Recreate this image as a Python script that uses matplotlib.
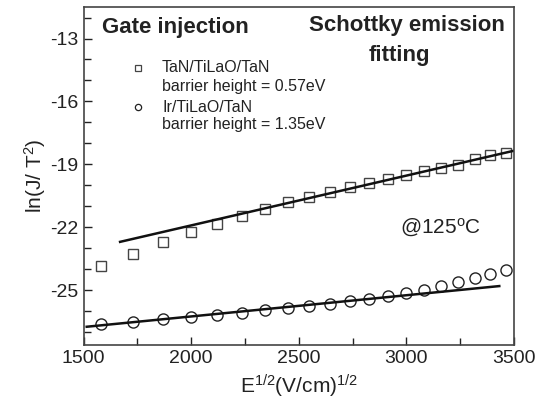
import numpy as np
import matplotlib.pyplot as plt
from matplotlib.ticker import MultipleLocator

plt.rcParams['font.family'] = ['Liberation Sans', 'DejaVu Sans']
plt.rcParams['mathtext.fontset'] = 'custom'
plt.rcParams['mathtext.rm'] = 'Liberation Sans'
plt.rcParams['mathtext.it'] = 'Liberation Sans'
plt.rcParams['axes.unicode_minus'] = False

# DATA
e_sqrt = [1581, 1732, 1871, 2000, 2121, 2236, 2345, 2449, 2550, 2646,
          2739, 2828, 2915, 3000, 3082, 3162, 3240, 3317, 3391, 3464]
ln_tan = [-23.86, -23.28, -22.73, -22.25, -21.85, -21.47, -21.14, -20.82, -20.55, -20.31,
          -20.09, -19.90, -19.71, -19.52, -19.31, -19.17, -19.01, -18.77, -18.56, -18.44]
ln_ir = [-26.64, -26.54, -26.40, -26.30, -26.19, -26.08, -25.95, -25.86, -25.76, -25.67,
         -25.54, -25.41, -25.29, -25.13, -24.99, -24.82, -24.63, -24.43, -24.24, -24.03]

fit_tan_x = [1670, 3497]
fit_tan_y = [-22.70, -18.36]
fit_ir_x = [1515, 3432]
fit_ir_y = [-26.75, -24.81]

# PLOT
fig = plt.figure(figsize=(5.37, 4.17), dpi=100)
ax = fig.add_axes([0.1555, 0.1727, 0.8015, 0.8103])

ax.plot(e_sqrt, ln_tan, 's', ms=7, mfc='none', mec='#444444', mew=1.0)
ax.plot(e_sqrt, ln_ir, 'o', ms=8, mfc='none', mec='#222222', mew=1.0)
ax.plot(fit_tan_x, fit_tan_y, color='#111111', lw=1.8)
ax.plot(fit_ir_x, fit_ir_y, color='#111111', lw=1.8)

ax.set_xlim(1500, 3500)
ax.set_ylim(-27.62, -11.5)
ax.xaxis.set_major_locator(MultipleLocator(500))
ax.xaxis.set_minor_locator(MultipleLocator(250))
ax.yaxis.set_minor_locator(MultipleLocator(1))
ax.set_yticks([-25, -22, -19, -16, -13])
ax.tick_params(which='both', direction='in', top=False, right=False,
               labelsize=14, colors='#222222')
ax.tick_params(which='major', length=6, width=1.0)
ax.tick_params(which='minor', length=5, width=1.0)
for s in ax.spines.values():
    s.set_color('#444444')
    s.set_linewidth(1.2)

ax.set_xlabel(r'E$^{1/2}$(V/cm)$^{1/2}$', fontsize=15, color='#222222', labelpad=4)
ax.set_ylabel(r'ln(J/ T$^2$)', fontsize=15, color='#222222', labelpad=2)

# annotations
t = dict(color='#222222')
fig.text(102 / 537, 1 - 27 / 417, 'Gate injection', fontsize=16, fontweight='bold',
         va='center', ha='left', **t)
fig.text(407 / 537, 1 - 26 / 417, 'Schottky emission', fontsize=16, fontweight='bold',
         va='center', ha='center', **t)
fig.text(399 / 537, 1 - 56 / 417, 'fitting', fontsize=16, fontweight='bold',
         va='center', ha='center', **t)

fig.text(162 / 537, 1 - 68 / 417, 'TaN/TiLaO/TaN', fontsize=11.5, va='center', **t)
fig.text(162 / 537, 1 - 87 / 417, 'barrier height = 0.57eV', fontsize=11.5, va='center', **t)
fig.text(162 / 537, 1 - 107 / 417, 'Ir/TiLaO/TaN', fontsize=11.5, va='center', **t)
fig.text(162 / 537, 1 - 125 / 417, 'barrier height = 1.35eV', fontsize=11.5, va='center', **t)
fig.lines.append(plt.Line2D([138 / 537], [1 - 68 / 417], marker='s', ms=4, mfc='none',
                            mec='#444444', mew=0.9, transform=fig.transFigure))
fig.lines.append(plt.Line2D([138 / 537], [1 - 107 / 417], marker='o', ms=4.5, mfc='none',
                            mec='#222222', mew=0.9, transform=fig.transFigure))

fig.text(400 / 537, 1 - 228 / 417, r'@125$^{\mathrm{o}}$C', fontsize=15, va='center', **t)

fig.savefig('out.png', dpi=100)
